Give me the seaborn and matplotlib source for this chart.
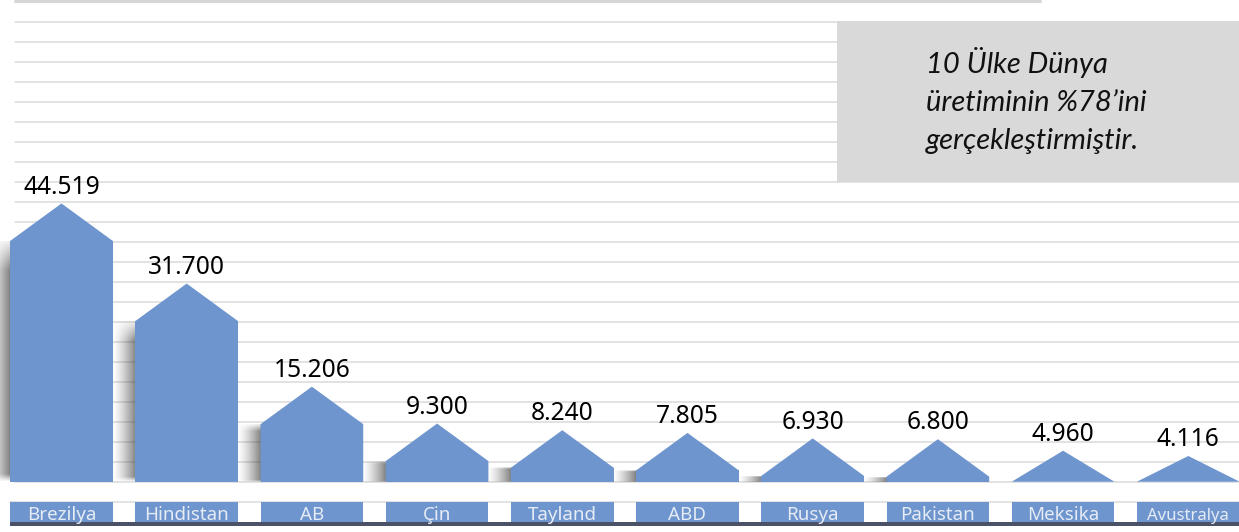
import numpy as np
import pandas as pd
import seaborn as sns
import matplotlib.pyplot as plt
from matplotlib.patches import Rectangle
from matplotlib.transforms import blended_transform_factory

# Production by country (shown with Turkish thousands separator)
countries = ["Brezilya", "Hindistan", "AB", "Çin", "Tayland",
             "ABD", "Rusya", "Pakistan", "Meksika", "Avustralya"]
values = [44519, 31700, 15206, 9300, 8240, 7805, 6930, 6800, 4960, 4116]
note_lines = ["10 Ülke Dünya", "üretiminin %78’ini", "gerçekleştirmiştir."]

BLUE = "#6E95CE"
ROOF = 6000          # roof height in data units
GRID_STEP = 3200

sns.set_theme(style="white")
plt.rcParams["font.family"] = ["Noto Sans", "DejaVu Sans"]

df = pd.DataFrame({"country": countries, "value": values})
df["body"] = np.maximum(df["value"] - ROOF, 0)

fig = plt.figure(figsize=(12.39, 5.32), dpi=100)
ax = fig.add_axes([0, 0, 1, 1])

sns.barplot(data=df, x="country", y="body", color=BLUE, saturation=1,
            width=0.82, linewidth=0, ax=ax, zorder=3)

ax.set_xlim(-0.491, 9.405)
ax.set_ylim(-8048, 77072)
ax.set_axis_off()

# horizontal grid
for y in np.arange(0, GRID_STEP * 24, GRID_STEP):
    ax.axhline(y, xmin=15 / 1239, xmax=1, color="#DADADA", lw=1.1, zorder=1)
ax.axhline(77072 - 1.5 * 160, xmin=15 / 1239, xmax=1040 / 1239,
           color="#D6D6D6", lw=2.2, zorder=1)

trans = blended_transform_factory(ax.transData, ax.transAxes)
ax.plot([-0.41, 9.6], [0.0573, 0.0573], transform=trans, color="#DEDEDE",
        lw=1.2, zorder=1, clip_on=False)
ax.add_patch(Rectangle((-0.41, 0.0113), 10.2, 0.0075, transform=trans,
                       color="#4B5166", lw=0, zorder=2))

fig.canvas.draw()
renderer = fig.canvas.get_renderer()

bars = list(ax.patches)[:len(values)]
for bar, v, name in zip(bars, df["value"], df["country"]):
    x0, w = bar.get_x(), bar.get_width()
    sh = bar.get_height()
    xc = x0 + w / 2

    # soft drop shadow on the left side of each house
    if sh > 0:
        nx, ny = 40, 160
        t = np.linspace(0, 1, nx)[None, :]
        s = np.linspace(0, 1, ny)[:, None]
        alpha = (0.68 * t ** 1.4 * np.clip((1.02 - s) / 0.14, 0, 1)
                 * np.clip(s / 0.03, 0, 1))
        img = np.zeros((ny, nx, 4))
        img[..., :3] = 0.2
        img[..., 3] = alpha
        ax.imshow(img, extent=[x0 - 0.19, x0 + 0.01, 0, sh], origin="lower",
                  aspect="auto", interpolation="bilinear", zorder=2)

    # house: body + roof
    ax.fill([x0, x0, xc, x0 + w, x0 + w], [0, sh, v, sh, 0],
            color=BLUE, lw=0, zorder=3)

    ax.annotate(f"{v:,}".replace(",", "."), (xc, v), xytext=(0, 7),
                textcoords="offset points", ha="center", va="baseline",
                fontsize=17.7, color="black", zorder=5)

    # category box below
    ax.add_patch(Rectangle((x0, 0.0188), w, 0.0376, transform=trans,
                           color=BLUE, lw=0, zorder=3))
    txt = ax.text(xc, (532 - 520.5) / 532, name, transform=trans,
                  ha="center", va="baseline",
                  fontsize=13.5, color="#E6ECF5", zorder=4)
    tw = txt.get_window_extent(renderer).width
    if tw > 86:
        txt.set_fontsize(13.5 * 82 / tw)

# note box
ax.add_patch(Rectangle((837 / 1239, 1 - 182 / 532), 1 - 837 / 1239, 161 / 532,
                       transform=ax.transAxes, color="#D9D9D9", lw=0, zorder=4))
for i, line in enumerate(note_lines):
    ax.text(926 / 1239, 1 - (73 + 38 * i) / 532, line, transform=ax.transAxes,
            ha="left", va="baseline", fontsize=21, style="italic",
            family=["Lato", "DejaVu Sans"], color="#111111", zorder=5)

fig.savefig("out.png", dpi=100)
